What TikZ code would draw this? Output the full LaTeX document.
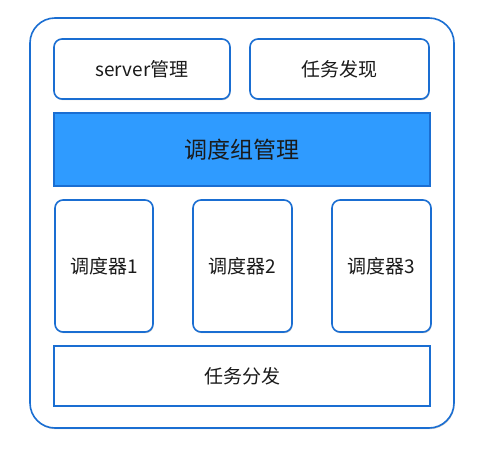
\documentclass[tikz,border=0pt]{standalone}
\usepackage{fontspec}
\setmainfont{Noto Sans CJK SC}
\usetikzlibrary{shadows}
\definecolor{lineblue}{HTML}{1A6ED2}
\definecolor{fillblue}{HTML}{2F9BFF}
\definecolor{txt}{HTML}{1A1A1A}
\begin{document}
\begin{tikzpicture}[x=1pt,y=-1pt,
  shad/.style={drop shadow={shadow xshift=0.6pt,shadow yshift=-1.2pt,opacity=0.35,fill=black!60}},
  rbox/.style={draw=lineblue,line width=1.6pt,fill=white,rounded corners=8pt,shad},
  sbox/.style={draw=lineblue,line width=1.6pt,fill=white,shad},
  lbl/.style={text=txt,font=\fontsize{19}{21}\selectfont}
]
\useasboundingbox (0,0) rectangle (488,452);
% outer container
\draw[draw=lineblue,line width=1.6pt,fill=white,rounded corners=25pt,shad] (30,18) rectangle (454,428);
% top row
\draw[rbox] (54,39) rectangle (230,99);
\node[lbl] (server) at (142,69) {server管理};
\draw[rbox] (250,39) rectangle (429,99);
\node[lbl] (disc) at (339.5,69) {任务发现};
% group management
\draw[draw=lineblue,line width=1.6pt,fill=fillblue,shad] (54,113) rectangle (430,186);
\node[text=txt,font=\fontsize{23}{26}\selectfont] (group) at (242,150) {调度组管理};
% schedulers
\draw[rbox] (55,200) rectangle (153,332);
\node[lbl] (s1) at (104,266) {调度器1};
\draw[rbox] (193,200) rectangle (292,332);
\node[lbl] (s2) at (242.5,266) {调度器2};
\draw[rbox] (332,200) rectangle (431,332);
\node[lbl] (s3) at (381.5,266) {调度器3};
% dispatch
\draw[sbox] (54,346) rectangle (430,406);
\node[lbl] (dispatch) at (242,376) {任务分发};
\end{tikzpicture}
\end{document}
